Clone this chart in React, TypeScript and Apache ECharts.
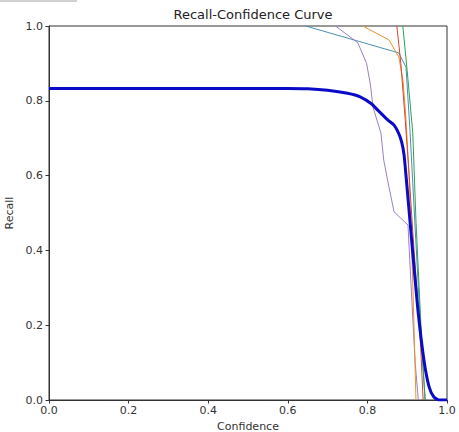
import React, { useEffect, useRef } from "react";
import * as echarts from "echarts";

const xTicks = [0, 0.2, 0.4, 0.6, 0.8, 1.0];
const yTicks = [0, 0.2, 0.4, 0.6, 0.8, 1.0];

const allClasses: number[][] = [
  [0, 0.833], [0.3, 0.833], [0.6, 0.833], [0.65, 0.832], [0.7, 0.828], [0.75, 0.82],
  [0.783, 0.81], [0.81, 0.792], [0.826, 0.775], [0.851, 0.749], [0.867, 0.735],
  [0.878, 0.714], [0.886, 0.69], [0.892, 0.656], [0.897, 0.6], [0.903, 0.527],
  [0.914, 0.393], [0.927, 0.24], [0.942, 0.107], [0.955, 0.035], [0.967, 0.008],
  [0.98, 0], [1.0, 0],
];
const classC0: number[][] = [
  [0.645, 1.0], [0.879, 0.928], [0.897, 0.89], [0.907, 0.72], [0.918, 0.5],
  [0.928, 0.3], [0.938, 0.12], [0.945, 0.0],
];
const classC1: number[][] = [
  [0.788, 1.0], [0.854, 0.963], [0.879, 0.917], [0.89, 0.85], [0.897, 0.749],
  [0.904, 0.615], [0.911, 0.42], [0.917, 0.2], [0.922, 0.0],
];
const classC2: number[][] = [
  [0.889, 1.0], [0.9, 0.88], [0.914, 0.714], [0.922, 0.48], [0.93, 0.3],
  [0.938, 0.12], [0.945, 0.0],
];
const classC3: number[][] = [
  [0.874, 1.0], [0.884, 0.9], [0.895, 0.75], [0.905, 0.6], [0.914, 0.45],
  [0.924, 0.3], [0.934, 0.14], [0.94, 0.0],
];
const classC4: number[][] = [
  [0.72, 1.0], [0.776, 0.955], [0.798, 0.9], [0.808, 0.84], [0.814, 0.783],
  [0.834, 0.714], [0.841, 0.642], [0.854, 0.57], [0.867, 0.503], [0.902, 0.468],
  [0.91, 0.3], [0.92, 0.1], [0.928, 0.0],
];

const FONT = "DejaVu Sans";

export default function App() {
  const ref = useRef<HTMLDivElement>(null);
  useEffect(() => {
    const chart = echarts.init(ref.current!, null, { renderer: "svg" });
    const thin = (data: number[][], color: string) => ({
      type: "line",
      data,
      showSymbol: false,
      lineStyle: { width: 1, color },
      itemStyle: { color },
      z: 2,
    });
    chart.setOption({
      animation: false,
      backgroundColor: "#ffffff",
      title: {
        text: "Recall-Confidence Curve",
        left: 248,
        textAlign: "center",
        top: 3,
        textStyle: { fontFamily: FONT, fontSize: 13, fontWeight: "normal", color: "#222" },
      },
      grid: {
        left: 49, right: 12, top: 26, bottom: 32,
        outerBoundsMode: "none",
        containLabel: false,
        show: true, borderColor: "#333", borderWidth: 1, backgroundColor: "transparent",
      },
      xAxis: {
        type: "value", min: 0, max: 1, interval: 0.2,
        name: "Confidence", nameLocation: "middle", nameGap: 21,
        nameTextStyle: { fontFamily: FONT, fontSize: 11, color: "#333" },
        axisLine: { show: true, lineStyle: { color: "#333", width: 1 } },
        axisTick: { show: true, length: 3.5, lineStyle: { color: "#333" } },
        axisLabel: {
          fontFamily: FONT, fontSize: 11, color: "#333", margin: 5,
          formatter: (v: number) => (xTicks.some((t) => Math.abs(t - v) < 1e-9) ? v.toFixed(1) : ""),
        },
        splitLine: { show: false },
      },
      yAxis: {
        type: "value", min: 0, max: 1, interval: 0.2,
        name: "Recall", nameLocation: "middle", nameGap: 27, nameRotate: 90,
        nameTextStyle: { fontFamily: FONT, fontSize: 11, color: "#333" },
        axisLine: { show: true, lineStyle: { color: "#333", width: 1 } },
        axisTick: { show: true, length: 3.5, lineStyle: { color: "#333" } },
        axisLabel: {
          fontFamily: FONT, fontSize: 11, color: "#333", margin: 6,
          formatter: (v: number) => (yTicks.some((t) => Math.abs(t - v) < 1e-9) ? v.toFixed(1) : ""),
        },
        splitLine: { show: false },
      },
      graphic: [
        { type: "rect", left: 0, top: 0, shape: { width: 77, height: 2 }, style: { fill: "#d0d0d0" } },
      ],
      series: [
        thin(classC0, "#4a8fb0"),
        thin(classC4, "#9a80c0"),
        thin(classC1, "#f0922a"),
        thin(classC3, "#d64530"),
        thin(classC2, "#2ca05a"),
        {
          type: "line",
          data: allClasses,
          showSymbol: false,
          smooth: 0.2,
          lineStyle: { width: 3, color: "#0a0ac8" },
          itemStyle: { color: "#0a0ac8" },
          z: 3,
        },
      ],
    });
    return () => chart.dispose();
  }, []);
  return <div ref={ref} style={{ width: 459, height: 432, position: "absolute", left: 0, top: 0 }} />;
}
